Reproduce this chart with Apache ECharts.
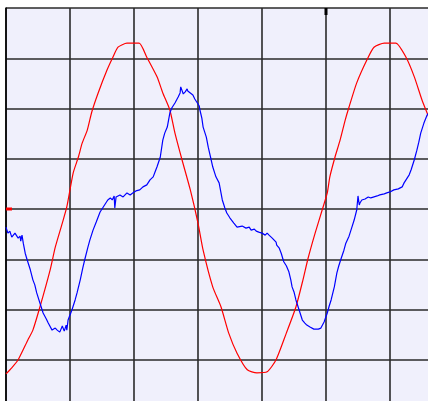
<!DOCTYPE html>
<html>
<head>
<meta charset="utf-8">
<script src="https://cdn.jsdelivr.net/npm/echarts@6/dist/echarts.min.js"></script>
<style>html,body{margin:0;padding:0;background:#fff;}#c{width:428px;height:401px;}</style>
</head>
<body>
<div id="c"></div>
<script>
// time in divisions, voltage in divisions
const redT = [0,0.09,0.19,0.34,0.42,0.53,0.69,0.77,0.88,0.95,1.05,1.13,1.19,1.27,1.34,1.44,1.58,1.67,1.75,1.89,2.08,2.20,2.36,2.45,2.56,2.64,2.75,2.88,3.00,3.08,3.23,3.36,3.48,3.61,3.77,3.92,4.08,4.22,4.38,4.53,4.64,4.72,4.83,4.94,5.02,5.06,5.14,5.22,5.30,5.36,5.48,5.64,5.75,5.91,6.09,6.25,6.38,6.50,6.58,6.72];
const redV = [-3.28,-3.16,-3.00,-2.61,-2.41,-1.95,-1.21,-0.76,-0.28,0.04,0.72,1.03,1.31,1.57,1.93,2.31,2.77,3.02,3.22,3.30,3.30,3.02,2.63,2.31,1.97,1.51,0.98,0.38,-0.28,-0.82,-1.55,-1.95,-2.47,-2.87,-3.20,-3.26,-3.24,-3.00,-2.47,-1.95,-1.41,-0.98,-0.48,-0.02,0.32,0.64,1.03,1.37,1.77,2.03,2.51,2.97,3.22,3.30,3.30,3.02,2.63,2.17,1.91,1.47];
const blueT = [0,0.03,0.06,0.09,0.14,0.19,0.22,0.23,0.25,0.27,0.30,0.33,0.38,0.42,0.45,0.48,0.53,0.58,0.63,0.66,0.72,0.77,0.80,0.84,0.88,0.91,0.94,0.95,0.97,1.03,1.08,1.11,1.16,1.20,1.23,1.28,1.31,1.36,1.41,1.44,1.47,1.52,1.56,1.59,1.63,1.66,1.69,1.70,1.72,1.78,1.83,1.89,1.94,1.98,2.03,2.09,2.14,2.20,2.25,2.30,2.33,2.36,2.41,2.45,2.48,2.52,2.56,2.59,2.64,2.69,2.72,2.73,2.77,2.80,2.83,2.84,2.88,2.92,2.95,2.98,3.02,3.03,3.06,3.08,3.13,3.16,3.20,3.23,3.28,3.33,3.38,3.42,3.45,3.50,3.56,3.61,3.64,3.69,3.75,3.80,3.83,3.88,3.91,3.95,4.00,4.05,4.08,4.11,4.16,4.19,4.22,4.23,4.27,4.30,4.34,4.38,4.42,4.45,4.47,4.50,4.53,4.58,4.63,4.67,4.70,4.75,4.81,4.88,4.92,4.97,5.02,5.05,5.08,5.13,5.17,5.20,5.23,5.28,5.31,5.36,5.39,5.44,5.48,5.50,5.52,5.53,5.56,5.61,5.66,5.70,5.75,5.80,5.84,5.91,5.95,6.00,6.06,6.13,6.19,6.22,6.25,6.30,6.33,6.36,6.38,6.42,6.45,6.48,6.53,6.58,6.66];
const blueV = [-0.36,-0.48,-0.44,-0.56,-0.48,-0.58,-0.54,-0.64,-0.52,-0.68,-0.88,-1.01,-1.21,-1.41,-1.51,-1.67,-1.87,-2.07,-2.19,-2.27,-2.41,-2.37,-2.41,-2.45,-2.33,-2.43,-2.31,-2.41,-2.21,-2.01,-1.81,-1.67,-1.41,-1.17,-1.01,-0.76,-0.62,-0.42,-0.26,-0.16,-0.06,0.04,0.12,0.18,0.22,0.18,0.26,0.02,0.24,0.28,0.24,0.32,0.28,0.32,0.36,0.38,0.44,0.48,0.58,0.64,0.74,0.84,1.03,1.37,1.51,1.63,1.91,2.01,2.11,2.23,2.31,2.43,2.29,2.33,2.39,2.35,2.31,2.27,2.19,2.13,2.05,1.97,1.81,1.63,1.43,1.23,1.01,0.84,0.64,0.52,0.18,0.02,-0.08,-0.18,-0.28,-0.36,-0.38,-0.34,-0.38,-0.36,-0.42,-0.40,-0.44,-0.46,-0.48,-0.52,-0.48,-0.52,-0.58,-0.62,-0.66,-0.72,-0.78,-0.88,-1.05,-1.13,-1.25,-1.41,-1.55,-1.65,-1.81,-2.01,-2.21,-2.27,-2.31,-2.35,-2.39,-2.39,-2.37,-2.25,-2.07,-1.93,-1.81,-1.55,-1.27,-1.13,-1.01,-0.82,-0.68,-0.54,-0.42,-0.22,-0.02,0.26,0.08,0.12,0.18,0.20,0.24,0.22,0.24,0.26,0.28,0.30,0.32,0.34,0.38,0.40,0.44,0.52,0.58,0.68,0.78,0.90,0.98,1.17,1.33,1.51,1.71,1.87,2.01];
const groundLevel = 0;
const triggerTime = 5;

const chart = echarts.init(document.getElementById('c'), null, {renderer:'canvas'});
const gridLine = {show:true, lineStyle:{color:'#2a2a2a', width:1.6}};
chart.setOption({
  animation:false,
  backgroundColor:'#ffffff',
  grid:{left:6, top:8, width:448, height:402, show:true, backgroundColor:'#f0f0fc', borderWidth:0,
        containLabel:false, outerBoundsMode:'none'},
  xAxis:{type:'value', min:0, max:7, interval:1, axisLabel:{show:false}, axisTick:{show:false}, axisLine:{show:false}, splitLine:gridLine},
  yAxis:{type:'value', min:-4, max:4, interval:1, axisLabel:{show:false}, axisTick:{show:false},
         axisLine:{show:true, onZero:false, lineStyle:{color:'#000', width:1.5}}, splitLine:gridLine},
  series:[
    {type:'line', data:redT.map((t,i)=>[t,redV[i]]), showSymbol:false, smooth:0.2, clip:true,
     lineStyle:{color:'#ff0000', width:1.2}, z:3},
    {type:'line', data:blueT.map((t,i)=>[t,blueV[i]]), showSymbol:false, smooth:false, clip:true,
     lineStyle:{color:'#0000ff', width:1.2}, z:4}
  ]
});
const g = chart.convertToPixel({gridIndex:0}, [0, groundLevel]);
const tr = chart.convertToPixel({gridIndex:0}, [triggerTime, 4]);
chart.setOption({graphic:[
  {type:'rect', shape:{x:g[0], y:g[1]-1.5, width:6, height:3}, style:{fill:'#ff0000'}, z:10},
  {type:'rect', shape:{x:tr[0]-1.5, y:tr[1], width:3, height:7}, style:{fill:'#000000'}, z:10}
]});
</script>
</body>
</html>
